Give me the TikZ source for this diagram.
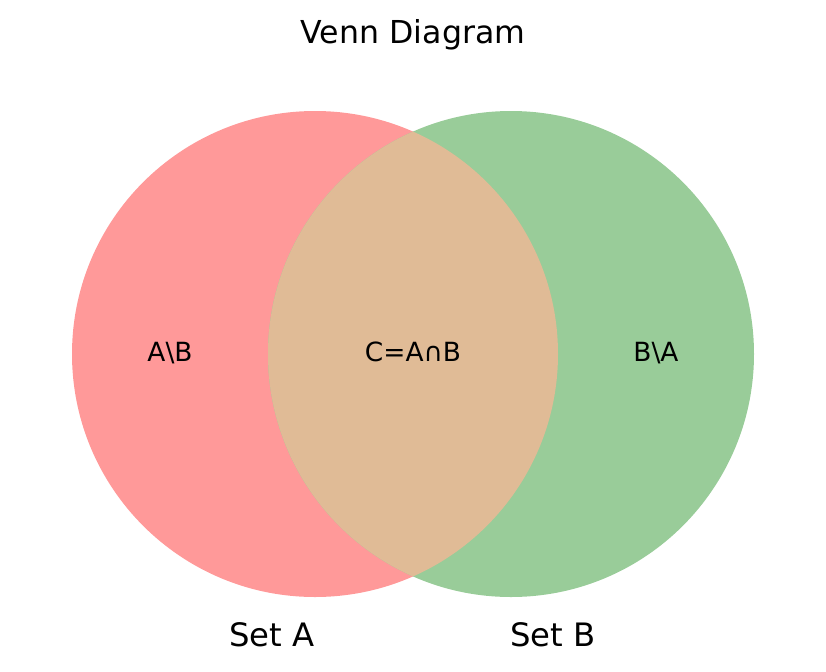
\documentclass[tikz,border=0pt]{standalone}
\usepackage{fontspec}
\setmainfont{DejaVu Sans}
\definecolor{onlyA}{RGB}{255,153,153}
\definecolor{onlyB}{RGB}{153,204,153}
\definecolor{bothAB}{RGB}{224,187,150}

\begin{document}
\begin{tikzpicture}[x=0.75pt,y=-0.75pt,
  region/.style={font=\fontsize{19.8}{19.8}\selectfont,anchor=base},
  setname/.style={font=\fontsize{24.2}{24.2}\selectfont,anchor=base}]

% frame
\useasboundingbox (0,0) rectangle (826,672);

% positions
\def\r{243}
\coordinate (cA) at (315,354);
\coordinate (cB) at (511,354);

% circles
\fill[onlyA] (cA) circle[radius=\r];
\fill[onlyB] (cB) circle[radius=\r];
\begin{scope}
  \clip (cA) circle[radius=\r];
  \fill[bothAB] (cB) circle[radius=\r];
\end{scope}

% labels
\node[font=\fontsize{23.7}{23.7}\selectfont,anchor=base] (title) at (413,43) {Venn Diagram};
\node[region] (AnB) at (170,361) {A\textbackslash B};
\node[region] (AcapB) at (413,361) {C=A∩B};
\node[region] (BnA) at (656,361) {B\textbackslash A};
\node[setname] (setA) at (272,646) {Set A};
\node[setname] (setB) at (553,646) {Set B};

\end{tikzpicture}
\end{document}
